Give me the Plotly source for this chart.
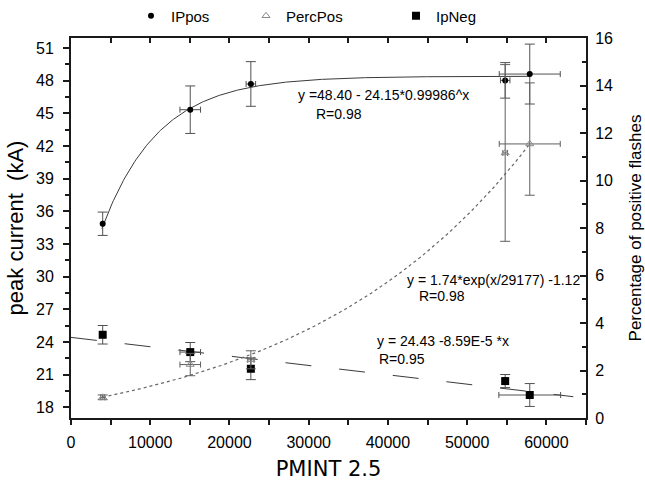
import numpy as np
import plotly.graph_objects as go

# ---------------- data ----------------
x_ippos = [4000, 15050, 22700, 54800, 57900]
y_ippos = [34.86, 45.33, 47.69, 48.02, 48.60]
ey_ippos = [1.07, 2.18, 2.05, 1.63, 2.75]
ex_ippos = [0, 1300, 600, 600, 3850]

x_perc = [4000, 15050, 22700, 54800, 57900]
y_perc = [0.87, 2.25, 2.45, 11.16, 11.54]
ey_perc_plus = [0.10, 0.47, 0.38, 3.72, 2.57]
ey_perc_minus = [0.10, 0.47, 0.38, 3.72, 2.16]
ex_perc = [250, 1300, 400, 300, 3850]

x_ipneg = [4000, 15050, 22700, 54800, 57900]
y_ipneg = [24.67, 23.08, 21.55, 20.42, 19.14]
ey_ipneg = [0.85, 0.88, 1.00, 0.60, 1.05]
ex_ipneg = [0, 1300, 0, 0, 3900]

# fit coefficients as printed on the chart
fit_pos = dict(a=48.40, b=24.15, c=0.99986, xmin=3900, xmax=58000)
fit_perc = dict(a=1.74, tau=29177, c=-1.12, xmin=4000, xmax=57900)
fit_neg = dict(a=24.43, b=-8.59e-5, xmin=0, xmax=63400)

fit_text_pos = ["y =48.40 - 24.15*0.99986^x", "R=0.98"]
fit_text_perc = ["y = 1.74*exp(x/29177) -1.12", "R=0.98"]
fit_text_neg = ["y = 24.43 -8.59E-5 *x", "R=0.95"]

# ---------------- figure ----------------
FONT = "Liberation Sans, Arial, sans-serif"
ERR = "#505050"

fig = go.Figure()

xs = np.linspace(fit_pos["xmin"], fit_pos["xmax"], 300)
fig.add_trace(go.Scatter(x=xs, y=fit_pos["a"] - fit_pos["b"] * fit_pos["c"] ** xs,
                         mode="lines", line=dict(color="#3a3a3a", width=1),
                         showlegend=False, hoverinfo="skip"))
xs = np.linspace(fit_perc["xmin"], fit_perc["xmax"], 300)
fig.add_trace(go.Scatter(x=xs, y=fit_perc["a"] * np.exp(xs / fit_perc["tau"]) + fit_perc["c"],
                         mode="lines", yaxis="y2",
                         line=dict(color="#666666", width=1.2, dash="dot"),
                         showlegend=False, hoverinfo="skip"))
xs = np.linspace(fit_neg["xmin"], fit_neg["xmax"], 2)
fig.add_trace(go.Scatter(x=xs, y=fit_neg["a"] + fit_neg["b"] * xs,
                         mode="lines", line=dict(color="#3a3a3a", width=1, dash="26px,28px"),
                         showlegend=False, hoverinfo="skip"))

fig.add_trace(go.Scatter(
    x=x_ippos, y=y_ippos, mode="markers", name="IPpos", legend="legend",
    marker=dict(symbol="circle", size=6, color="black"),
    error_y=dict(type="data", array=ey_ippos, color=ERR, thickness=1, width=5),
    error_x=dict(type="data", array=ex_ippos, color=ERR, thickness=1, width=3),
))
fig.add_trace(go.Scatter(
    x=x_perc, y=y_perc, mode="markers", name="PercPos", yaxis="y2", legend="legend2",
    marker=dict(symbol="triangle-up-open", size=7, color="#8a8a8a", line=dict(width=1)),
    error_y=dict(type="data", array=ey_perc_plus, arrayminus=ey_perc_minus,
                 color="#606060", thickness=1, width=5),
    error_x=dict(type="data", array=ex_perc, color="#606060", thickness=1, width=3),
))
fig.add_trace(go.Scatter(
    x=x_ipneg, y=y_ipneg, mode="markers", name="IpNeg", legend="legend3",
    marker=dict(symbol="square", size=8, color="black"),
    error_y=dict(type="data", array=ey_ipneg, color=ERR, thickness=1, width=5),
    error_x=dict(type="data", array=ex_ipneg, color=ERR, thickness=1, width=3),
))
# helper trace for top axis (inside ticks)
fig.add_trace(go.Scatter(x=[], y=[], xaxis="x2", showlegend=False, hoverinfo="skip"))

L, R, T, B = 71, 59, 38, 63
W, H = 645, 481
pw, ph = W - L - R, H - T - B

def px2paper(px, py):
    return (px - L) / pw, (H - B - py) / ph

annots = []
def add_text(txt, px, py):
    xp, yp = px2paper(px, py)
    annots.append(dict(text=txt, x=xp, y=yp, xref="paper", yref="paper",
                       xanchor="left", yanchor="middle", showarrow=False,
                       font=dict(family=FONT, size=14, color="black")))

add_text(fit_text_pos[0], 296, 95)
add_text(fit_text_pos[1], 314, 114)
add_text(fit_text_perc[0], 405, 279.5)
add_text(fit_text_perc[1], 417, 295.5)
add_text(fit_text_neg[0], 375, 341)
add_text(fit_text_neg[1], 377, 358.5)

axis_common = dict(showline=True, linecolor="#1a1a1a", linewidth=2, showgrid=False,
                   zeroline=False, tickcolor="#1a1a1a", tickwidth=1.5, automargin=False,
                   tickfont=dict(family=FONT, size=16, color="black"))

fig.update_layout(
    width=W, height=H, margin=dict(l=L, r=R, t=T, b=B, pad=0, autoexpand=False),
    plot_bgcolor="white", paper_bgcolor="white",
    font=dict(family=FONT, color="black"),
    xaxis=dict(range=[0, 65000], tickmode="linear", tick0=0, dtick=10000, tickformat="d",
               ticks="outside", ticklen=5, mirror=False,
               minor=dict(dtick=5000, ticks="outside", ticklen=5, tickcolor="#1a1a1a"),
               title=dict(text="PMINT 2.5", font=dict(family="DejaVu Sans", size=21), standoff=16),
               ticklabelstandoff=4,
               **axis_common),
    xaxis2=dict(range=[0, 65000], overlaying="x", side="top", matches="x",
                tickmode="linear", tick0=0, dtick=5000, ticks="inside", ticklen=5,
                showticklabels=False, showline=True, linecolor="#1a1a1a", linewidth=2,
                showgrid=False, zeroline=False, tickcolor="#1a1a1a", tickwidth=1.5),
    yaxis=dict(range=[17.03, 51.91], tickmode="linear", tick0=0, dtick=3,
               ticks="outside", ticklen=6,
               minor=dict(dtick=1.5, ticks="outside", ticklen=4, tickcolor="#1a1a1a"),
               title=dict(text="peak current\u00a0 (kA)", font=dict(family=FONT, size=22), standoff=6),
               ticklabelstandoff=6,
               **axis_common),
    yaxis2=dict(range=[0, 16], overlaying="y", side="right", tickmode="linear",
                tick0=0, dtick=2, ticks="inside", ticklen=6,
                minor=dict(dtick=1, ticks="inside", ticklen=4, tickcolor="#1a1a1a"),
                title=dict(text="Percentage of positive flashes", font=dict(family=FONT, size=17), standoff=22),
                ticklabelstandoff=4,
                **axis_common),
    annotations=annots,
    showlegend=True,
)

leg_common = dict(orientation="h", yanchor="middle", xanchor="left", y=px2paper(0, 16)[1],
                  font=dict(family=FONT, size=15, color="black"), bgcolor="rgba(0,0,0,0)",
                  borderwidth=0)
fig.update_layout(
    legend=dict(x=px2paper(131, 0)[0], **leg_common),
    legend2=dict(x=px2paper(246, 0)[0], **leg_common),
    legend3=dict(x=px2paper(396, 0)[0], **leg_common),
)

fig.write_html("out.html", config=dict(displayModeBar=False))
